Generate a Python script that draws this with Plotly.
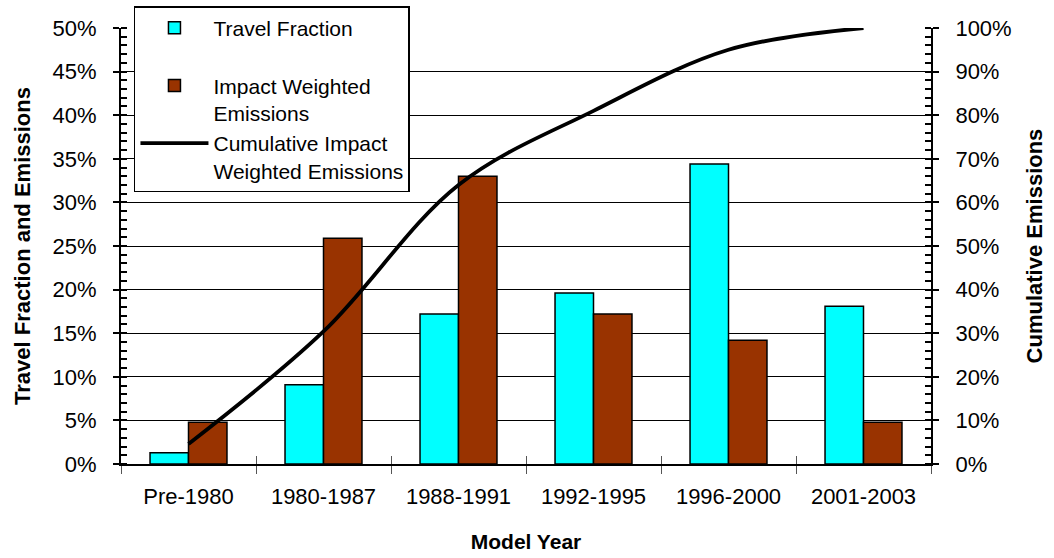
import plotly.graph_objects as go

# Model-year groups and their shares
model_years = ["Pre-1980", "1980-1987", "1988-1991", "1992-1995", "1996-2000", "2001-2003"]
travel_fraction = [1.3, 9.1, 17.2, 19.6, 34.4, 18.1]          # % of travel
impact_weighted = [4.8, 25.9, 33.0, 17.2, 14.2, 4.8]          # % of impact weighted emissions
cumulative_impact = [4.6, 30.4, 64.0, 81.0, 95.0, 100.0]      # cumulative %, right axis

FONT = "Arial, Liberation Sans, sans-serif"

fig = go.Figure()

fig.add_trace(go.Bar(
    x=model_years, y=[v / 100 for v in travel_fraction],
    name="Travel Fraction<br>\u00a0",
    marker=dict(color="#00FFFF", line=dict(color="black", width=1.5)),
))
fig.add_trace(go.Bar(
    x=model_years, y=[v / 100 for v in impact_weighted],
    name="Impact Weighted<br>Emissions",
    marker=dict(color="#993300", line=dict(color="black", width=1.5)),
))
fig.add_trace(go.Scatter(
    x=model_years, y=[v / 100 for v in cumulative_impact],
    name="Cumulative Impact<br>Weighted Emissions",
    mode="lines", yaxis="y2",
    line=dict(color="black", width=3.8, shape="spline", smoothing=1.0),
))
# carrier for the crossing half of the category boundary ticks
fig.add_trace(go.Scatter(
    x=model_years, y=[None] * len(model_years), xaxis="x2",
    mode="lines", showlegend=False, hoverinfo="skip",
))

fig.update_layout(
    width=1054, height=558,
    margin=dict(l=121, r=123, t=28, b=94, autoexpand=False),
    paper_bgcolor="white", plot_bgcolor="white",
    font=dict(family=FONT, size=22, color="black"),
    barmode="group", bargap=0.43, bargroupgap=0,
    showlegend=True,
    legend=dict(
        x=0.016, y=1.05, xanchor="left", yanchor="top",
        bgcolor="white", bordercolor="black", borderwidth=1.5,
        font=dict(family=FONT, size=21, color="black"),
        valign="top", itemwidth=68, tracegroupgap=0,
        traceorder="normal",
    ),
    xaxis=dict(
        type="category", range=[-0.5, 5.5],
        tickson="boundaries", ticks="outside", ticklen=8, tickwidth=1, tickcolor="#555",
        showline=True, linecolor="black", linewidth=2,
        showgrid=False, zeroline=False,
        ticklabelstandoff=12,
        tickfont=dict(size=22),
        title=dict(text="<b>Model Year</b>", font=dict(size=21), standoff=26),
    ),
    xaxis2=dict(
        type="category", range=[-0.5, 5.5], overlaying="x", anchor="y", side="bottom",
        tickson="boundaries", ticks="inside", ticklen=8, tickwidth=1, tickcolor="#555",
        showticklabels=False, showline=False, showgrid=False, zeroline=False,
    ),
    yaxis=dict(
        range=[0, 0.5], dtick=0.05, tickformat=".0%",
        showgrid=True, gridcolor="black", gridwidth=1,
        showline=True, linecolor="black", linewidth=2,
        ticks="outside", ticklen=6, tickwidth=2, tickcolor="black",
        minor=dict(ticks="inside", dtick=0.01, ticklen=6, tickwidth=1.5, tickcolor="black", showgrid=False),
        zeroline=False, ticklabelstandoff=12,
        tickfont=dict(size=22),
        title=dict(text="<b>Travel Fraction and Emissions</b>", font=dict(size=22), standoff=16),
    ),
    yaxis2=dict(
        range=[0, 1.0], dtick=0.1, tickformat=".0%",
        overlaying="y", side="right", anchor="x",
        showgrid=False, zeroline=False,
        showline=True, linecolor="black", linewidth=2,
        ticks="outside", ticklen=6, tickwidth=2, tickcolor="black",
        minor=dict(ticks="inside", dtick=0.02, ticklen=6, tickwidth=1.5, tickcolor="black", showgrid=False),
        ticklabelstandoff=12,
        tickfont=dict(size=22),
        title=dict(text="<b>Cumulative Emissions</b>", font=dict(size=22), standoff=16),
    ),
)

fig.write_html("out.html")
